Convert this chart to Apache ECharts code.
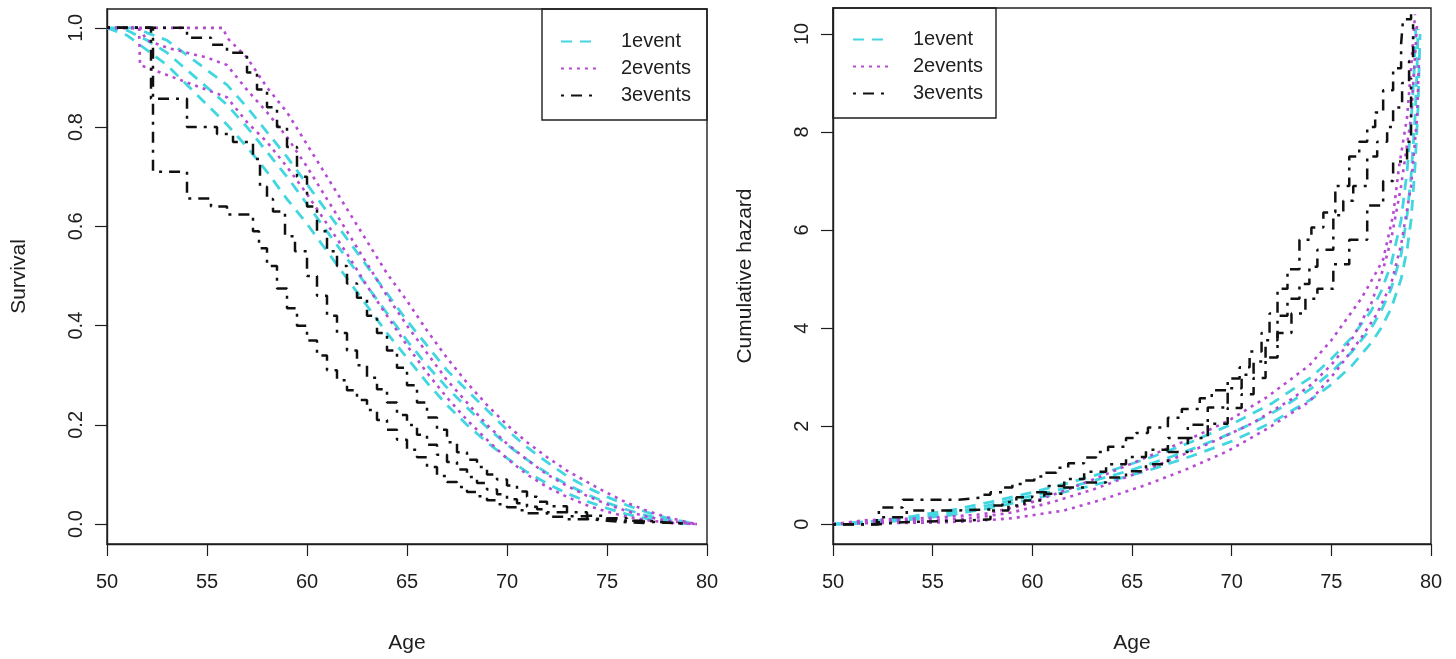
<!DOCTYPE html>
<html>
<head>
<meta charset="utf-8">
<title>Survival and cumulative hazard by number of events</title>
<script src="https://cdn.jsdelivr.net/npm/echarts@6/dist/echarts.min.js"></script>
<style>
  html, body { margin: 0; padding: 0; background: #fff; }
  #chart { width: 1456px; height: 659px; }
</style>
</head>
<body>
<div id="chart"></div>
<script>
// ---- groups ----
const groups = ['1event', '2events', '3events'];

// ---- axis ticks ----
const ageTicks = [50, 55, 60, 65, 70, 75, 80];
const survTicks = [0, 0.2, 0.4, 0.6, 0.8, 1.0];
const hazTicks = [0, 2, 4, 6, 8, 10];

// ---- survival curves [age, S(age)] : lower band, estimate, upper band ----
const surv1Lower = [[50,1],[51,0.985],[52,0.955],[53,0.925],[54,0.885],[55,0.845],[56,0.805],[57,0.76],[58,0.71],[59,0.655],[60,0.605],[61,0.55],[62,0.495],[63,0.44],[64,0.385],[65,0.335],[66,0.285],[67,0.24],[68,0.2],[69,0.165],[70,0.133],[71,0.105],[72,0.082],[73,0.062],[74,0.046],[75,0.032],[76,0.02],[77,0.011],[78,0.005],[79,0.001],[79.4,0]];
const surv1Est = [[50,1],[51,0.995],[52,0.975],[53,0.95],[54,0.915],[55,0.88],[56,0.845],[57,0.8],[58,0.75],[59,0.7],[60,0.645],[61,0.59],[62,0.535],[63,0.48],[64,0.425],[65,0.37],[66,0.32],[67,0.275],[68,0.235],[69,0.195],[70,0.16],[71,0.13],[72,0.103],[73,0.08],[74,0.06],[75,0.043],[76,0.029],[77,0.017],[78,0.008],[79,0.002],[79.4,0]];
const surv1Upper = [[50,1],[51.5,1],[52,0.99],[53,0.975],[54,0.945],[55,0.915],[56,0.885],[57,0.84],[58,0.79],[59,0.74],[60,0.685],[61,0.63],[62,0.575],[63,0.52],[64,0.465],[65,0.41],[66,0.36],[67,0.31],[68,0.27],[69,0.23],[70,0.19],[71,0.155],[72,0.125],[73,0.097],[74,0.074],[75,0.055],[76,0.038],[77,0.024],[78,0.012],[79,0.004],[79.4,0]];

const surv2Lower = [[50,1],[51.6,1],[51.65,0.925],[53,0.905],[54,0.89],[55,0.875],[56,0.86],[57,0.81],[58,0.77],[59,0.72],[60,0.665],[61,0.605],[62,0.545],[63,0.48],[64,0.42],[65,0.36],[66,0.305],[67,0.255],[68,0.21],[69,0.17],[70,0.132],[71,0.1],[72,0.075],[73,0.055],[74,0.038],[75,0.025],[76,0.015],[77,0.008],[78,0.003],[79,0.001],[79.5,0]];
const surv2Est = [[50,1],[51.6,1],[52,0.975],[53,0.96],[54,0.95],[55,0.94],[56,0.925],[57,0.875],[58,0.83],[59,0.78],[60,0.72],[61,0.655],[62,0.59],[63,0.525],[64,0.46],[65,0.4],[66,0.345],[67,0.29],[68,0.245],[69,0.2],[70,0.162],[71,0.13],[72,0.1],[73,0.077],[74,0.057],[75,0.04],[76,0.026],[77,0.015],[78,0.007],[79,0.002],[79.5,0]];
const surv2Upper = [[50,1],[55.8,1],[56,0.98],[57,0.94],[58,0.88],[59,0.83],[60,0.765],[61,0.7],[62,0.635],[63,0.57],[64,0.505],[65,0.45],[66,0.39],[67,0.335],[68,0.285],[69,0.24],[70,0.2],[71,0.165],[72,0.135],[73,0.108],[74,0.085],[75,0.063],[76,0.043],[77,0.027],[78,0.014],[79,0.004],[79.5,0]];

const surv3Lower = [[50,1],[52.3,0.71],[54,0.656],[55.2,0.64],[56,0.624],[57.3,0.59],[57.6,0.556],[58,0.52],[58.5,0.475],[59,0.435],[59.5,0.4],[60,0.37],[60.5,0.34],[61,0.31],[61.5,0.29],[62,0.27],[62.5,0.25],[63,0.23],[63.5,0.21],[64,0.19],[64.5,0.17],[65,0.15],[65.5,0.135],[66,0.115],[66.5,0.097],[67,0.085],[67.5,0.075],[68,0.065],[68.5,0.056],[69,0.048],[69.5,0.04],[70,0.034],[70.5,0.028],[71,0.022],[72,0.015],[73,0.01],[74,0.007],[75,0.004],[76,0.002],[77,0]];
const surv3Est = [[50,1],[52.2,0.857],[54,0.8],[55.5,0.786],[56.3,0.77],[57.3,0.736],[57.65,0.68],[58,0.655],[58.3,0.63],[58.9,0.58],[59.4,0.55],[60,0.5],[60.5,0.46],[61,0.42],[61.5,0.385],[62,0.35],[62.5,0.32],[63,0.295],[63.5,0.272],[64,0.245],[64.5,0.22],[65,0.2],[65.5,0.18],[66,0.16],[66.5,0.14],[67,0.125],[67.5,0.11],[68,0.095],[68.5,0.083],[69,0.07],[69.5,0.06],[70,0.05],[70.5,0.042],[71,0.035],[71.5,0.03],[72,0.024],[73,0.016],[74,0.011],[75,0.007],[76,0.005],[77,0.003],[78,0.001],[79,0]];
const surv3Upper = [[50,1],[54,0.98],[55.2,0.966],[56,0.95],[57,0.91],[57.5,0.876],[58,0.84],[58.5,0.8],[59,0.76],[59.5,0.7],[60,0.64],[60.5,0.59],[61,0.55],[61.5,0.52],[62,0.485],[62.5,0.456],[63,0.42],[63.5,0.385],[64,0.35],[64.5,0.315],[65,0.28],[65.5,0.245],[66,0.215],[66.5,0.19],[67,0.165],[67.5,0.145],[68,0.13],[68.5,0.115],[69,0.1],[69.5,0.09],[70,0.078],[70.5,0.066],[71,0.055],[71.5,0.045],[72,0.036],[73,0.024],[74,0.017],[75,0.012],[76,0.007],[77,0.003],[78,0.001],[79,0]];

// ---- cumulative hazard curves [age, H(age)] : lower band, estimate, upper band ----
const haz1Lower = [[50,0],[52,0.02],[54,0.1],[56,0.19],[58,0.34],[60,0.51],[62,0.69],[64,0.89],[66,1.12],[68,1.39],[70,1.69],[72,2.07],[74,2.55],[75,2.85],[76,3.22],[77,3.7],[77.5,4.0],[78,4.4],[78.5,5.0],[78.8,5.6],[79,6.2],[79.2,7.3],[79.35,8.5],[79.45,10.0]];
const haz1Est = [[50,0],[51,0.01],[52,0.04],[53,0.08],[54,0.13],[55,0.18],[56,0.24],[57,0.31],[58,0.4],[59,0.49],[60,0.58],[61,0.67],[62,0.77],[63,0.88],[64,0.99],[65,1.11],[66,1.24],[67,1.38],[68,1.53],[69,1.69],[70,1.86],[71,2.05],[72,2.26],[73,2.5],[74,2.77],[75,3.1],[76,3.5],[77,4.0],[77.5,4.35],[78,4.8],[78.5,5.5],[78.8,6.3],[79,7.1],[79.2,8.3],[79.3,9.3],[79.35,10.1]];
const haz1Upper = [[50,0],[52,0.06],[54,0.16],[56,0.29],[58,0.46],[60,0.65],[62,0.86],[64,1.1],[66,1.37],[68,1.68],[70,2.04],[72,2.46],[74,3.0],[75,3.37],[76,3.8],[77,4.35],[77.5,4.75],[78,5.3],[78.5,6.2],[78.8,7.2],[79,8.2],[79.15,9.2],[79.25,10.2]];

const haz2Lower = [[50,0],[51.6,0.02],[55,0.03],[57,0.06],[59,0.12],[61.6,0.28],[63.5,0.5],[65.7,0.8],[67.8,1.13],[69.8,1.49],[71.8,1.95],[73.9,2.5],[75.2,3.1],[76.5,3.8],[77.3,4.3],[78,4.9],[78.5,5.7],[79,6.9],[79.3,8.3],[79.4,9.5]];
const haz2Est = [[50,0],[51.6,0.05],[53,0.06],[55,0.08],[57,0.12],[59,0.24],[61,0.45],[63,0.7],[65,1.0],[67,1.32],[69,1.67],[71,2.05],[73,2.55],[74,2.85],[75,3.25],[76,3.75],[77,4.5],[77.6,5.2],[78,5.8],[78.5,6.9],[79,8.3],[79.3,10.2]];
const haz2Upper = [[50,0],[51.6,0.08],[53,0.1],[55,0.13],[57.5,0.2],[59.5,0.38],[61.6,0.68],[63.6,1.0],[65.7,1.36],[67.8,1.72],[69.8,2.1],[71.8,2.6],[73.9,3.24],[75,3.75],[76.5,4.6],[77.2,5.1],[77.6,5.4],[78.1,6.3],[78.4,7.3],[78.8,8.3],[79,9.3],[79.2,10.4]];

const haz3Lower = [[50,0],[52.3,0.04],[53.5,0.08],[57,0.1],[57.9,0.28],[58.8,0.38],[59.6,0.48],[60.6,0.62],[61.6,0.75],[62.6,0.85],[63.7,0.95],[64.7,1.08],[65.7,1.22],[66.8,1.47],[67.8,1.76],[68.8,2.05],[69.8,2.37],[70.5,2.65],[71.1,2.98],[71.7,3.4],[72.3,3.9],[73,4.3],[73.7,4.6],[74.3,4.8],[75.1,5.3],[75.9,5.8],[76.8,6.5],[77.6,7.0],[78.1,7.4],[78.8,7.8],[79,9.1]];
const haz3Est = [[50,0],[52.2,0.14],[53.7,0.28],[56.3,0.3],[57.9,0.38],[58.5,0.45],[59.2,0.55],[60,0.65],[60.8,0.78],[61.6,0.92],[62.6,1.07],[63.7,1.22],[64.7,1.37],[65.7,1.52],[66.8,1.76],[67.8,2.03],[68.8,2.38],[69.8,2.77],[70.5,3.05],[71.1,3.32],[71.7,3.75],[72.3,4.25],[72.8,4.6],[73.4,4.9],[73.9,5.25],[74.3,5.6],[75.1,6.3],[75.6,6.6],[76.1,6.9],[76.8,7.5],[77.3,7.8],[77.8,8.1],[78.1,8.5],[78.55,9.0],[78.9,9.45],[79.1,10.2]];
const haz3Upper = [[50,0],[52.3,0.34],[53.5,0.5],[56.3,0.54],[57.4,0.6],[57.9,0.65],[58.5,0.75],[59,0.82],[59.6,0.89],[60.1,0.97],[60.6,1.05],[61.2,1.15],[61.8,1.24],[62.6,1.36],[63.2,1.47],[63.8,1.58],[64.7,1.76],[65.2,1.86],[65.8,1.97],[66.8,2.17],[67.5,2.35],[68.4,2.57],[69,2.73],[69.8,2.97],[70.4,3.2],[70.9,3.52],[71.5,3.9],[71.9,4.3],[72.3,4.8],[72.8,5.2],[73.4,5.8],[74,6.05],[74.6,6.36],[75.2,6.9],[75.9,7.5],[76.4,7.8],[76.8,8.1],[77.2,8.4],[77.6,8.85],[78.1,9.3],[78.5,9.8],[78.6,10.3],[79,10.4]];

// ---- line styles per group ----
const FONT = "'Liberation Sans', Arial, sans-serif";
const INK = '#1e1e1e';
const groupStyle = {
  '1event':  { color: '#42d6e0', type: [11, 8], width: 2.8, step: false },
  '2events': { color: '#b64ad2', type: [3, 5], width: 2.6, step: false },
  '3events': { color: '#111111', type: [3, 7, 11, 7], width: 2.5, step: 'end' }
};

function curve(name, data, panel) {
  const s = groupStyle[name];
  return {
    name: name,
    type: 'line',
    xAxisIndex: panel,
    yAxisIndex: panel,
    data: data,
    step: s.step,
    symbol: 'none',
    showSymbol: false,
    silent: true,
    animation: false,
    lineStyle: { color: s.color, type: s.type, width: s.width, cap: 'butt' },
    itemStyle: { color: s.color }
  };
}

const survSets = { '1event': [surv1Lower, surv1Est, surv1Upper], '2events': [surv2Lower, surv2Est, surv2Upper], '3events': [surv3Lower, surv3Est, surv3Upper] };
const hazSets = { '1event': [haz1Lower, haz1Est, haz1Upper], '2events': [haz2Lower, haz2Est, haz2Upper], '3events': [haz3Lower, haz3Est, haz3Upper] };

const series = [];
groups.forEach(g => survSets[g].forEach(d => series.push(curve(g, d, 0))));
groups.forEach(g => hazSets[g].forEach(d => series.push(curve(g, d, 1))));

function xAxisFor(panel) {
  return {
    type: 'value', gridIndex: panel, min: 50, max: 80, interval: 5,
    name: 'Age', nameLocation: 'middle', nameGap: 89,
    nameTextStyle: { fontFamily: FONT, fontSize: 21, color: INK },
    axisLine: { show: true, onZero: false, lineStyle: { color: INK, width: 1.4 } },
    axisTick: { show: true, inside: false, length: 12, lineStyle: { color: INK, width: 1.2 }, customValues: ageTicks },
    axisLabel: { fontFamily: FONT, fontSize: 20, color: INK, margin: 28, customValues: ageTicks },
    splitLine: { show: false }
  };
}
function yAxisFor(panel, min, max, ticks, title, fmt) {
  return {
    type: 'value', gridIndex: panel, min: min, max: max,
    name: title, nameLocation: 'middle', nameGap: 77, nameRotate: 90,
    nameTextStyle: { fontFamily: FONT, fontSize: 21, color: INK },
    axisLine: { show: true, onZero: false, lineStyle: { color: INK, width: 1.4 } },
    axisTick: { show: true, inside: false, length: 12, lineStyle: { color: INK, width: 1.2 }, customValues: ticks },
    axisLabel: { fontFamily: FONT, fontSize: 20, color: INK, margin: 21, rotate: 90, customValues: ticks, formatter: fmt },
    splitLine: { show: false }
  };
}

function legendFor(left, top) {
  return {
    data: groups, orient: 'vertical', left: left, top: top,
    itemWidth: 37, itemHeight: 14, itemGap: 6,
    padding: 0, selectedMode: false,
    itemStyle: { opacity: 0 },
    textStyle: { fontFamily: FONT, fontSize: 20, lineHeight: 21, color: INK, padding: [0, 0, 0, 18] }
  };
}

const chart = echarts.init(document.getElementById('chart'), null, { renderer: 'canvas' });
chart.setOption({
  animation: false,
  backgroundColor: '#ffffff',
  grid: [
    { left: 107, top: 9, width: 600, height: 539, show: true, borderColor: INK, borderWidth: 1.4, backgroundColor: 'transparent' },
    { left: 833, top: 8, width: 598, height: 539, show: true, borderColor: INK, borderWidth: 1.4, backgroundColor: 'transparent' }
  ],
  xAxis: [xAxisFor(0), xAxisFor(1)],
  yAxis: [
    yAxisFor(0, -0.04, 1.038, survTicks, 'Survival', v => v.toFixed(1)),
    yAxisFor(1, -0.405, 10.53, hazTicks, 'Cumulative hazard', v => String(v))
  ],
  legend: [legendFor(560, 31), legendFor(852, 29)],
  graphic: [
    { type: 'rect', shape: { x: 542, y: 9, width: 165, height: 111 }, style: { fill: '#fff', stroke: INK, lineWidth: 1.4 }, z: -1, silent: true },
    { type: 'rect', shape: { x: 833, y: 8, width: 163, height: 110 }, style: { fill: '#fff', stroke: INK, lineWidth: 1.4 }, z: -1, silent: true }
  ],
  series: series
});
</script>
</body>
</html>
